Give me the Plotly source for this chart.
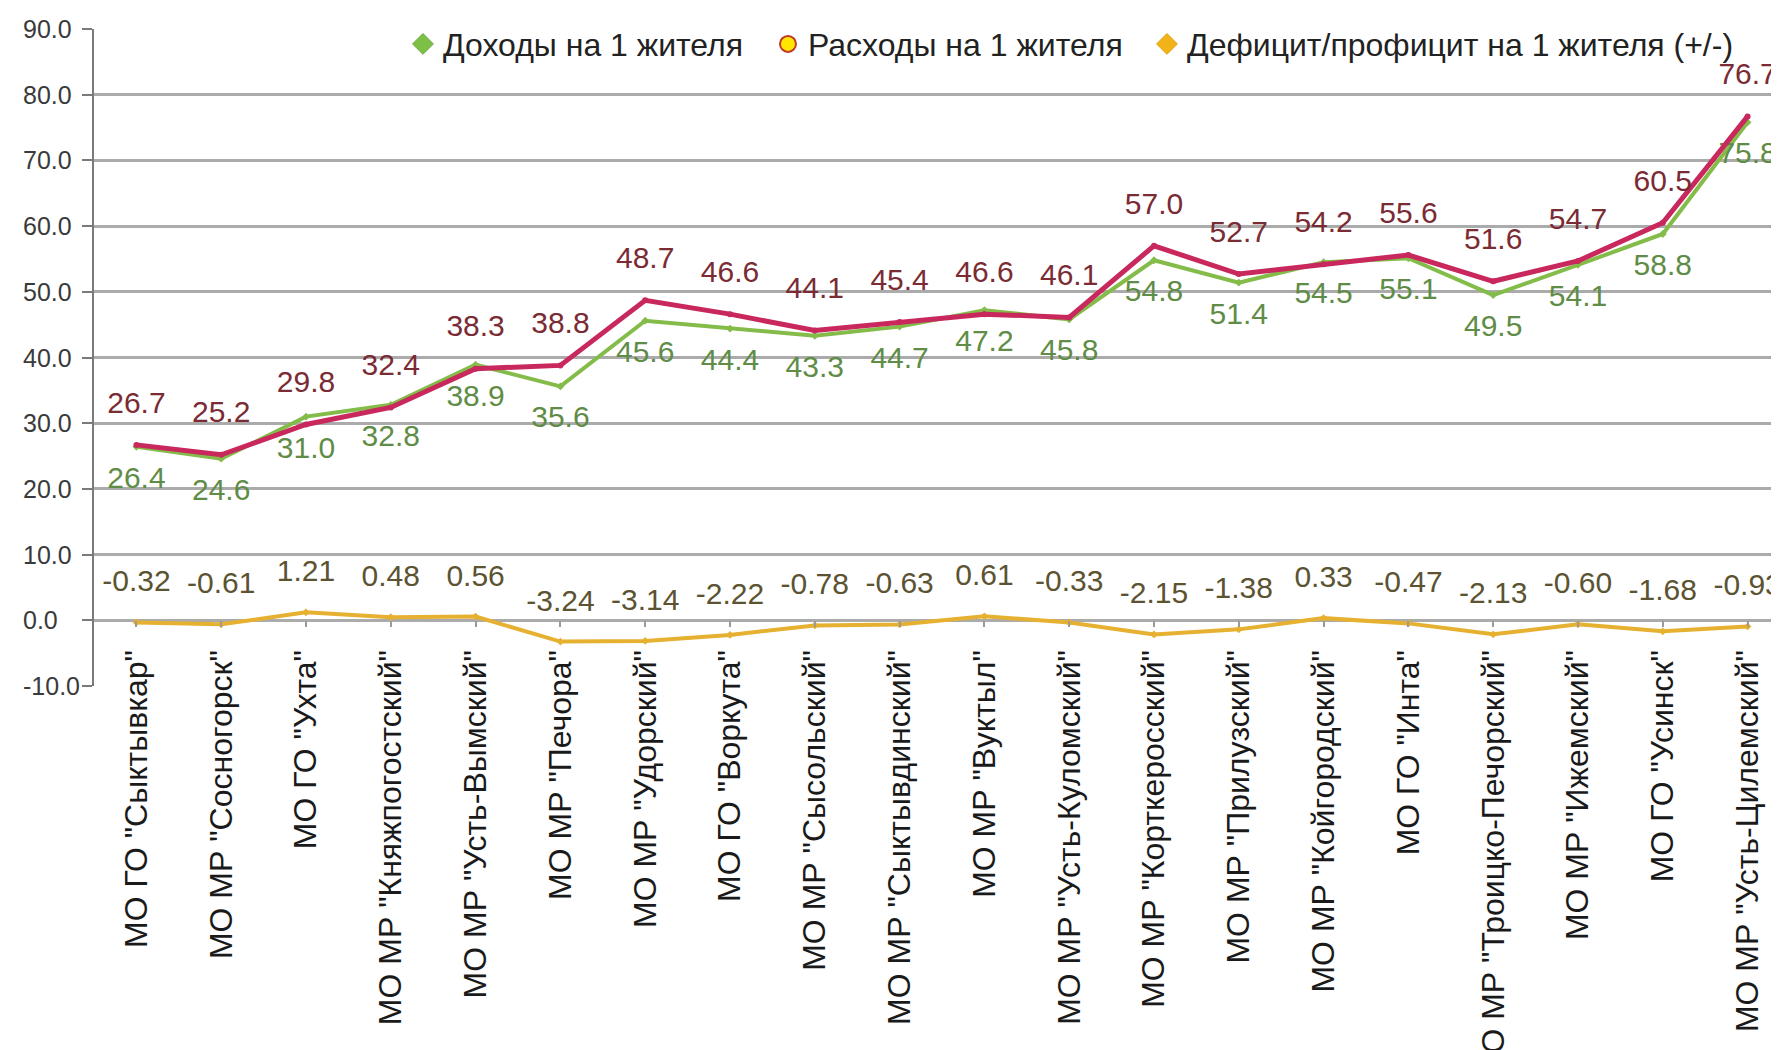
import plotly.graph_objects as go

categories = [
    'МО ГО "Сыктывкар"', 'МО МР "Сосногорск"', 'МО ГО "Ухта"', 'МО МР "Княжпогостский"',
    'МО МР "Усть-Вымский"', 'МО МР "Печора"', 'МО МР "Удорский"', 'МО ГО "Воркута"',
    'МО МР "Сысольский"', 'МО МР "Сыктывдинский"', 'МО МР "Вуктыл"', 'МО МР "Усть-Куломский"',
    'МО МР "Корткеросский"', 'МО МР "Прилузский"', 'МО МР "Койгородский"', 'МО ГО "Инта"',
    'МО МР "Троицко-Печорский"', 'МО МР "Ижемский"', 'МО ГО "Усинск"', 'МО МР "Усть-Цилемский"',
]
income = [26.4, 24.6, 31.0, 32.8, 38.9, 35.6, 45.6, 44.4, 43.3, 44.7,
          47.2, 45.8, 54.8, 51.4, 54.5, 55.1, 49.5, 54.1, 58.8, 75.8]
expenses = [26.7, 25.2, 29.8, 32.4, 38.3, 38.8, 48.7, 46.6, 44.1, 45.4,
            46.6, 46.1, 57.0, 52.7, 54.2, 55.6, 51.6, 54.7, 60.5, 76.7]
balance = [-0.32, -0.61, 1.21, 0.48, 0.56, -3.24, -3.14, -2.22, -0.78, -0.63,
           0.61, -0.33, -2.15, -1.38, 0.33, -0.47, -2.13, -0.60, -1.68, -0.93]
series_names = ["Доходы на 1 жителя", "Расходы на 1 жителя", "Дефицит/профицит на 1 жителя (+/-)"]
y_ticks = [-10, 0, 10, 20, 30, 40, 50, 60, 70, 80, 90]

FONT = "Liberation Sans, Arial, sans-serif"
W, H = 1779, 1050
L, R, T, B = 86, 0, 21, 372
STEP = 84.8
x_idx = list(range(len(categories)))

fig = go.Figure()


def add_series(y, color, width, symbol, labels, pos, label_color, pad_size):
    # line with small markers
    fig.add_trace(go.Scatter(
        x=x_idx, y=y, mode="lines+markers", showlegend=False, hoverinfo="skip",
        line=dict(color=color, width=width), marker=dict(symbol=symbol, size=6, color=color),
    ))
    # value labels (invisible marker sets the label offset)
    fig.add_trace(go.Scatter(
        x=x_idx, y=y, mode="markers+text", showlegend=False,
        marker=dict(size=pad_size, opacity=0, color=color),
        text=labels, textposition=pos, cliponaxis=False,
        textfont=dict(family=FONT, size=30, color=label_color),
    ))


add_series(income, "#84bc4a", 4, "diamond", [f"{v:.1f}" for v in income],
           "bottom center", "#5f8c46", 28)
add_series(expenses, "#c8285c", 5, "circle", [f"{v:.1f}" for v in expenses],
           "top center", "#7a2b34", 38)
add_series(balance, "#e6b030", 4, "diamond", [f"{v:.2f}" for v in balance],
           "top center", "#5b5331", 36)

# legend-only entries (markers as in the original legend)
fig.add_trace(go.Scatter(x=[None], y=[None], mode="markers", name=series_names[0],
                         legendwidth=320,
                         marker=dict(symbol="diamond", size=20, color="#7cc045",
                                     line=dict(color="#6aa83a", width=1))))
fig.add_trace(go.Scatter(x=[None], y=[None], mode="markers", name=series_names[1],
                         legendwidth=334,
                         marker=dict(symbol="circle", size=16, color="#ffe600",
                                     line=dict(color="#c0392b", width=2))))
fig.add_trace(go.Scatter(x=[None], y=[None], mode="markers", name=series_names[2],
                         marker=dict(symbol="diamond", size=20, color="#f2b318",
                                     line=dict(color="#e0a010", width=1))))

plot_w = W - L - R
span = plot_w / STEP
zero_frac = (0 - (-10)) / 100.0

fig.update_layout(
    width=W, height=H,
    margin=dict(l=L, r=R, t=T, b=B, autoexpand=False),
    paper_bgcolor="white", plot_bgcolor="white",
    font=dict(family=FONT, size=28, color="#222222"),
    legend=dict(orientation="h", x=0.1825, y=0.977, xanchor="left", yanchor="middle",
                bgcolor="rgba(0,0,0,0)", font=dict(family=FONT, size=32, color="#222222"),
                itemwidth=30, tracegroupgap=0),
    xaxis=dict(
        range=[-0.5, -0.5 + span], tickmode="array", tickvals=x_idx, ticktext=categories,
        tickangle=-90, anchor="free", position=zero_frac, showgrid=False, zeroline=False,
        showline=False, ticks="outside", ticklen=6, tickcolor="#9a9a9a", tickwidth=2,
        tickson="boundaries", ticklabelstandoff=10,
        tickfont=dict(family=FONT, size=32, color="#1a1a1a"), automargin=False,
    ),
    yaxis=dict(
        range=[-10, 90], tickmode="array", tickvals=y_ticks, showticklabels=False,
        showgrid=True, gridcolor="#ababab", gridwidth=3, zeroline=False,
        showline=True, linecolor="#7a7a7a", linewidth=2,
        ticks="outside", ticklen=10, tickcolor="#7a7a7a", tickwidth=2, automargin=False,
    ),
)

# y tick labels (left aligned as in the original)
for v in y_ticks:
    fig.add_annotation(x=(13 - L) / plot_w, xref="paper", xanchor="left",
                       y=v, yref="y", yanchor="middle", showarrow=False,
                       text=f"{v:.1f}", font=dict(family=FONT, size=25, color="#3a3a3a"))

fig.write_html("out.html")
